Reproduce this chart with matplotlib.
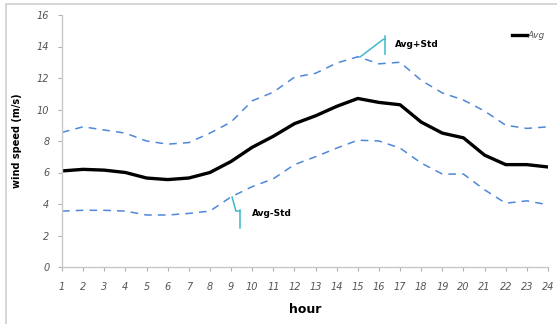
import matplotlib.pyplot as plt
from matplotlib.patches import Rectangle

hours = list(range(1, 25))
avg = [6.1, 6.2, 6.15, 6.0, 5.65, 5.55, 5.65, 6.0, 6.7, 7.6, 8.3, 9.1,
       9.6, 10.2, 10.7, 10.45, 10.3, 9.2, 8.5, 8.2, 7.1, 6.5, 6.5, 6.35]
avg_plus = [8.55, 8.9, 8.7, 8.5, 8.0, 7.8, 7.9, 8.5, 9.2, 10.55, 11.1, 12.05,
            12.3, 12.95, 13.35, 12.9, 13.0, 11.85, 11.05, 10.6, 9.9, 9.0, 8.8, 8.9]
avg_minus = [3.55, 3.6, 3.6, 3.55, 3.3, 3.3, 3.4, 3.55, 4.45, 5.1, 5.6, 6.5,
             7.0, 7.55, 8.05, 8.0, 7.55, 6.6, 5.9, 5.9, 4.9, 4.05, 4.2, 3.95]
yticks = [0, 2, 4, 6, 8, 10, 12, 14, 16]

fig = plt.figure(figsize=(5.57, 3.24), dpi=100)
fig.patches.append(Rectangle((6/557, -0.05), 1.1, 1 - 4/324 + 0.05, transform=fig.transFigure,
                             fill=False, edgecolor='#d0d0d0', lw=1.2))
ax = fig.add_axes([62/557, 1 - 267/324, (548 - 62)/557, (267 - 15)/324])

blue = '#4f87d9'
ax.plot(hours, avg, color='black', lw=2.4, label='Avg', solid_joinstyle='round')
ax.plot(hours, avg_plus, color=blue, lw=1.1, ls=(0, (5, 4)))
ax.plot(hours, avg_minus, color=blue, lw=1.1, ls=(0, (5, 4)))

ax.set_xlim(1, 24)
ax.set_ylim(0, 16)
ax.set_xticks(hours)
ax.set_yticks(yticks)
ax.tick_params(labelsize=7, colors='#b0b0b0', length=3, width=0.8, labelcolor='#555555')
ax.tick_params(axis='y', pad=6)
ax.tick_params(axis='x', pad=8)
for lab in ax.get_xticklabels() + ax.get_yticklabels():
    lab.set_fontstyle('italic')
for s in ['top', 'right']:
    ax.spines[s].set_visible(False)
for s in ['left', 'bottom']:
    ax.spines[s].set_color('#c8c8c8')
    ax.spines[s].set_linewidth(1.0)

ax.set_xlabel('hour', fontsize=9, fontweight='bold', labelpad=8)
ax.set_ylabel('wind speed (m/s)', fontsize=7, fontweight='bold')
ax.yaxis.set_label_coords(-0.082, 0.5)

# callouts
cyan = '#3fb8cf'
ax.plot([15.1, 16.2, 16.29], [13.33, 14.45, 14.45], color=cyan, lw=1.1)
ax.plot([16.29, 16.29], [13.55, 14.65], color=cyan, lw=1.1)
ax.text(16.75, 14.1, 'Avg+Std', fontsize=6.5, fontweight='bold', va='center')
ax.plot([9.05, 9.23, 9.42], [4.44, 3.55, 3.55], color=cyan, lw=1.1)
ax.plot([9.42, 9.42], [2.5, 3.65], color=cyan, lw=1.1)
ax.text(9.98, 3.37, 'Avg-Std', fontsize=6.5, fontweight='bold', va='center')

leg = ax.legend(loc='upper right', bbox_to_anchor=(1.01, 0.97), frameon=False,
                handlelength=1.6, handletextpad=0.1, prop={'style': 'italic', 'size': 6.5})
for t in leg.get_texts():
    t.set_color('#555555')

fig.savefig('out.png', dpi=100)
